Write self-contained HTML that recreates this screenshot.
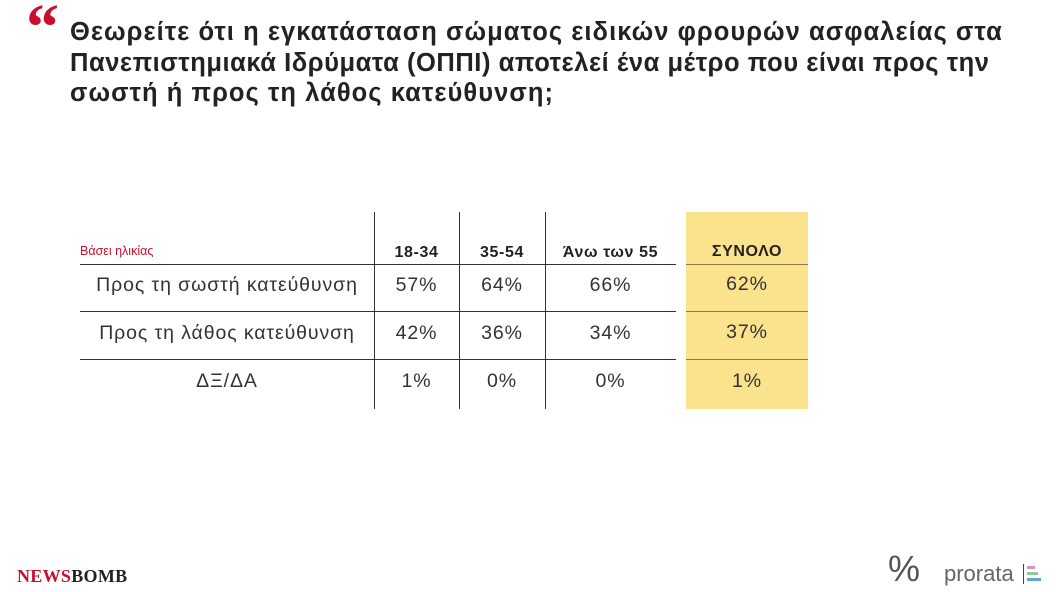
<!DOCTYPE html>
<html><head><meta charset="utf-8"><style>
body{margin:0;width:1056px;height:592px;background:#fff;position:relative;overflow:hidden;font-family:"Liberation Sans","DejaVu Sans",sans-serif;color:#222}
.a{position:absolute}
.t{left:70px;top:17px;font-size:25.5px;font-weight:bold;line-height:30.5px;color:#222;white-space:nowrap;letter-spacing:1.05px}
.q{left:26px;top:-10px;font-size:66px;font-weight:bold;color:#c8102e;font-family:"Liberation Serif",serif}
.vl{width:1px;background:#333;top:212px;height:197px}
.hl{height:1px;background:#333}
.c{text-align:center;font-size:19.5px;color:#333;letter-spacing:0.9px}
.h{font-weight:bold;font-size:16px;text-align:center;color:#222;letter-spacing:0.6px}
</style></head><body>
<div class="a q">“</div>
<div class="a t">Θεωρείτε ότι η εγκατάσταση σώματος ειδικών φρουρών ασφαλείας στα<br><span style="letter-spacing:0.55px">Πανεπιστημιακά Ιδρύματα (ΟΠΠΙ) αποτελεί ένα μέτρο που είναι προς την</span><br>σωστή ή προς τη λάθος κατεύθυνση;</div>
<div class="a" style="left:686px;top:212px;width:122px;height:197px;background:#fbe28c"></div>
<div class="a vl" style="left:374px"></div>
<div class="a vl" style="left:459px"></div>
<div class="a vl" style="left:545px"></div>
<div class="a hl" style="left:80px;top:264px;width:596px"></div>
<div class="a hl" style="left:80px;top:311px;width:596px"></div>
<div class="a hl" style="left:80px;top:359px;width:596px"></div>
<div class="a hl" style="left:686px;top:264px;width:122px;background:#8a7a50"></div>
<div class="a hl" style="left:686px;top:311px;width:122px;background:#8a7a50"></div>
<div class="a hl" style="left:686px;top:359px;width:122px;background:#8a7a50"></div>
<div class="a" style="left:80px;top:244px;font-size:12.5px;color:#c8102e">Βάσει ηλικίας</div>
<div class="a h" style="left:374px;top:244px;width:85px">18-34</div>
<div class="a h" style="left:459px;top:244px;width:86px">35-54</div>
<div class="a h" style="left:545px;top:244px;width:131px">Άνω των 55</div>
<div class="a h" style="left:686px;top:243px;width:122px">ΣΥΝΟΛΟ</div>
<div class="a c" style="left:80px;top:274px;width:294px">Προς τη σωστή κατεύθυνση</div>
<div class="a c" style="left:80px;top:322px;width:294px">Προς τη λάθος κατεύθυνση</div>
<div class="a c" style="left:80px;top:370px;width:294px">ΔΞ/ΔΑ</div>
<div class="a c" style="left:374px;top:274px;width:85px">57%</div>
<div class="a c" style="left:459px;top:274px;width:86px">64%</div>
<div class="a c" style="left:545px;top:274px;width:131px">66%</div>
<div class="a c" style="left:686px;top:273px;width:122px">62%</div>
<div class="a c" style="left:374px;top:322px;width:85px">42%</div>
<div class="a c" style="left:459px;top:322px;width:86px">36%</div>
<div class="a c" style="left:545px;top:322px;width:131px">34%</div>
<div class="a c" style="left:686px;top:321px;width:122px">37%</div>
<div class="a c" style="left:374px;top:370px;width:85px">1%</div>
<div class="a c" style="left:459px;top:370px;width:86px">0%</div>
<div class="a c" style="left:545px;top:370px;width:131px">0%</div>
<div class="a c" style="left:686px;top:370px;width:122px">1%</div>
<div class="a" style="left:17px;top:566px;font-family:'Liberation Serif',serif;font-weight:bold;font-size:18px;letter-spacing:0.3px"><span style="color:#c8102e">NEWS</span><span style="color:#222">BOMB</span></div>
<div class="a" style="left:888px;top:548px;font-size:36px;color:#555">%</div>
<div class="a" style="left:944px;top:561px;font-size:22px;color:#666">prorata</div>
<div class="a" style="left:1023px;top:564px;width:1px;height:20px;background:#444"></div>
<div class="a" style="left:1027px;top:566px;width:8px;height:3px;background:#e090c8"></div>
<div class="a" style="left:1027px;top:572px;width:11px;height:3px;background:#90c890"></div>
<div class="a" style="left:1027px;top:578px;width:14px;height:3px;background:#60a8d8"></div>
</body></html>
